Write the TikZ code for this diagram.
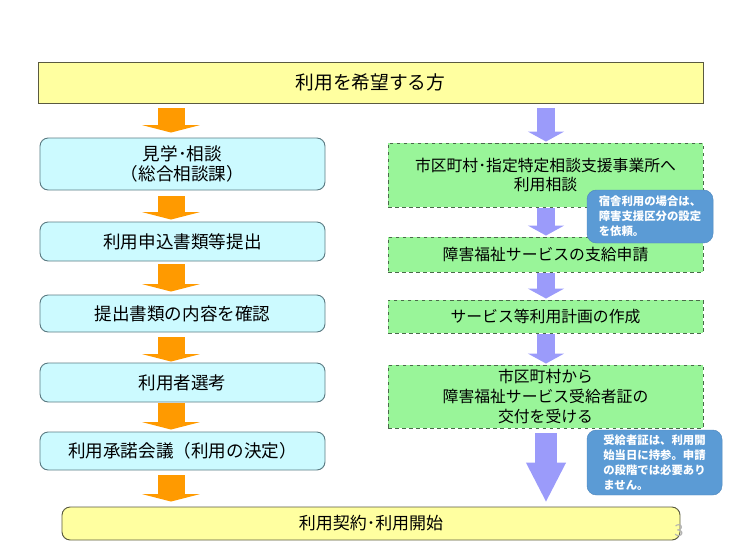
\documentclass[tikz,border=0pt]{standalone}
\usepackage{fontspec}
\setmainfont{Noto Sans CJK JP}
\usetikzlibrary{arrows.meta}

\definecolor{boxyellow}{HTML}{FFFFA0}
\definecolor{yelline}{HTML}{5A5A40}
\definecolor{boxcyan}{HTML}{CCFAFF}
\definecolor{cyanline}{HTML}{5C7C84}
\definecolor{boxgreen}{HTML}{99F599}
\definecolor{greenline}{HTML}{4A6A4A}
\definecolor{arrorange}{HTML}{FF9A00}
\definecolor{arrpurple}{HTML}{9B9BFA}
\definecolor{notefill}{HTML}{5B9BD5}
\definecolor{noteline}{HTML}{4F88BE}

\begin{document}
\begin{tikzpicture}[x=0.03cm,y=-0.03cm]
        \tikzstyle{yel}=[draw=yelline, fill=boxyellow, line width=0.8pt, inner sep=0pt]
        \tikzstyle{step1}=[draw=cyanline, fill=boxcyan, line width=0.8pt, rounded corners=7pt,
            minimum width=8.55cm, minimum height=1.14cm, inner sep=0pt, align=center,
            font=\fontsize{15}{17}\selectfont]
        \tikzstyle{step2}=[draw=greenline, fill=boxgreen, line width=0.8pt, dashed,
            minimum width=9.45cm, minimum height=1.02cm, inner sep=0pt, align=center,
            font=\fontsize{13.5}{17}\selectfont]
        \tikzstyle{note}=[draw=noteline, fill=notefill, rounded corners=8pt, inner sep=0pt,
            align=left, text=white, font=\bfseries\fontsize{9.7}{12.8}\selectfont]
        \tikzstyle{oarr}=[draw=arrorange, line width=0.81cm,
            -{Triangle[width=1.71cm,length=0.22cm]}]
        \tikzstyle{parr}=[draw=arrpurple, line width=0.54cm,
            -{Triangle[width=1.08cm,length=0.3cm]}]

        \useasboundingbox (0,0) rectangle (740,555);

        % top and bottom
        \node[yel, minimum width=19.95cm, minimum height=1.23cm,
            font=\fontsize{16}{18}\selectfont] (top) at (370.5,82.5) {利用を希望する方};
        \node[yel, rounded corners=7pt, minimum width=18.54cm, minimum height=0.99cm,
            font=\fontsize{14.5}{17}\selectfont] (bot) at (371,523.5) {利用契約･利用開始};

        % left column
        \node[step1, minimum height=1.56cm] (a1) at (182.5,164) {見学･相談\\（総合相談課）};
        \node[step1, minimum height=1.17cm] (a2) at (182.5,241.5) {利用申込書類等提出};
        \node[step1, minimum height=1.11cm] (a3) at (182.5,313.5) {提出書類の内容を確認};
        \node[step1, minimum height=1.17cm] (a4) at (182.5,382.5) {利用者選考};
        \node[step1] (a5) at (182.5,451) {利用承諾会議（利用の決定）};

        % right column
        \node[step2, minimum height=1.92cm] (g1) at (545.5,175) {市区町村･指定特定相談支援事業所へ\\利用相談};
        \node[step2, minimum height=1.05cm] (g2) at (545.5,254.5) {障害福祉サービスの支給申請};
        \node[step2, minimum height=0.99cm] (g3) at (545.5,316.5) {サービス等利用計画の作成};
        \node[step2, minimum height=1.89cm] (g4) at (545.5,396.5) {市区町村から\\障害福祉サービス受給者証の\\交付を受ける};

        \coordinate (ox) at (171,0);
        \coordinate (px) at (546,0);

        \draw[oarr, shorten <=0.15cm, shorten >=0.15cm] (top.south -| ox) -- (a1.north -| ox);
        \draw[oarr, shorten <=0.18cm, shorten >=0.06cm] (a1.south -| ox) -- (a2.north -| ox);
        \draw[oarr, shorten <=0.09cm, shorten >=0.09cm] (a2.south -| ox) -- (a3.north -| ox);
        \draw[oarr, shorten <=0.15cm, shorten >=0.03cm] (a3.south -| ox) -- (a4.north -| ox);
        \draw[oarr, shorten <=0.03cm, shorten >=0.06cm] (a4.south -| ox) -- (a5.north -| ox);
        \draw[oarr, shorten <=0.15cm, shorten >=0.15cm] (a5.south -| ox) -- (bot.north -| ox);

        \draw[parr, shorten <=0.15cm, shorten >=0.03cm] (top.south -| px) -- (g1.north -| px);
        \draw[parr, shorten <=0.03cm, shorten >=0.03cm] (g1.south -| px) -- (g2.north -| px);
        \draw[parr, shorten <=0.03cm, shorten >=0.03cm] (g2.south -| px) -- (g3.north -| px);
        \draw[parr, shorten <=0.03cm, shorten >=0.03cm] (g3.south -| px) -- (g4.north -| px);
        \draw[parr, line width=0.66cm, -{Triangle[width=1.11cm,length=1.2cm]},
            shorten <=0.15cm, shorten >=0.12cm] (g4.south -| px) -- (bot.north -| px);

        % notes
        \node[note, minimum width=3.78cm, minimum height=1.59cm] (n1) at (650,216.5)
            {宿舎利用の場合は、\\障害支援区分の設定\\を依頼。};
        \node[note, minimum width=4.05cm, minimum height=1.95cm] (n2) at (654.5,462.5)
            {受給者証は、利用開\\始当日に持参。申請\\の段階では必要あり\\ません。};

        \node[text=gray!60, font=\fontsize{14}{16}\selectfont, inner sep=0pt] (pg) at (679,531) {3};
    \end{tikzpicture}
\end{document}
